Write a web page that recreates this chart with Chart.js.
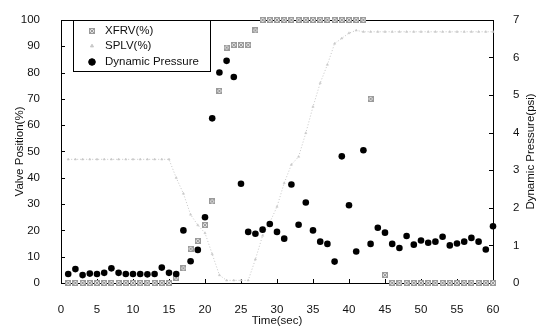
<!DOCTYPE html>
<html>
<head>
<meta charset="utf-8">
<script src="https://cdn.jsdelivr.net/npm/chart.js@4/dist/chart.umd.min.js"></script>
<style>
  html, body { margin: 0; padding: 0; background: #fff; }
</style>
</head>
<body>
<canvas id="chart" width="543" height="331"></canvas>
<script>
// time (sec) for each sample
const times = [1,2,3,4,5,6,7,8,9,10,11,12,13,14,15,16,17,18,19,20,
  21,22,23,24,25,26,27,28,29,30,31,32,33,34,35,36,37,38,39,40,
  41,42,43,44,45,46,47,48,49,50,51,52,53,54,55,56,57,58,59,60];

// XFRV valve position (%)
const xfrv = [0,0,0,0,0,0,0,0,0,0,0,0,0,0,0,2,5.6,13,16,22,
  31,73,89.5,90.5,90.5,90.5,96,100,100,100,100,100,100,100,100,100,100,100,100,100,
  100,100,70,null,3,0,0,0,0,0,0,0,0,0,0,0,0,0,0,0];

// SPLV valve position (%)
const splv = [47,47,47,47,47,47,47,47,47,47,47,47,47,47,47,40,34,26,22,19,
  11,3,1,1,1,1,9,18,23,29,38,45,48,57,67,76,83,91,93,95,
  96,95.5,95.5,95.5,95.5,95.5,95.5,95.5,95.5,95.5,95.5,95.5,95.5,95.5,95.5,95.5,95.5,95.5,95.5,95.5];

// dynamic pressure (psi)
const pressure = [0.24,0.37,0.21,0.25,0.24,0.27,0.39,0.27,0.24,0.24,0.24,0.23,0.24,0.41,0.27,0.24,1.4,0.58,0.88,1.75,
  4.38,5.6,5.91,5.48,2.64,1.36,1.31,1.42,1.57,1.36,1.18,2.62,1.55,2.14,1.4,1.1,1.04,0.57,3.37,2.07,
  0.84,3.53,1.04,1.47,1.34,1.04,0.93,1.25,1.02,1.13,1.07,1.1,1.23,1.0,1.05,1.1,1.2,1.1,0.89,1.51];

const seriesNames = ['XFRV(%)', 'SPLV(%)', 'Dynamic Pressure'];
const xTitle = 'Time(sec)';
const yTitle = 'Valve Position(%)';
const y2Title = 'Dynamic Pressure(psi)';

const fontFamily = '"Liberation Sans", Arial, sans-serif';

// little hatched square used for XFRV markers
const xfrvMark = document.createElement('canvas');
xfrvMark.width = 6; xfrvMark.height = 6;
(function(){
  const c = xfrvMark.getContext('2d');
  c.fillStyle = '#e2e2e2';
  c.fillRect(0, 0, 6, 6);
  c.strokeStyle = '#9a9a9a';
  c.lineWidth = 1;
  c.strokeRect(0.5, 0.5, 5, 5);
  c.beginPath();
  c.moveTo(1, 1); c.lineTo(5, 5);
  c.moveTo(5, 1); c.lineTo(1, 5);
  c.stroke();
})();

function toPoints(ys){
  return times.map((t, i) => ({x: t, y: ys[i]}));
}

const frame = {
  id: 'frame',
  beforeDraw(chart){
    const ctx = chart.ctx;
    ctx.save();
    ctx.fillStyle = '#fff';
    ctx.fillRect(0, 0, chart.width, chart.height);
    ctx.restore();
  },
  beforeDatasetsDraw(chart){
    const {ctx, chartArea: a, scales} = chart;
    ctx.save();
    ctx.strokeStyle = '#000';
    ctx.lineWidth = 1;
    ctx.strokeRect(Math.round(a.left) + 0.5, Math.round(a.top) + 0.5,
      Math.round(a.right - a.left), Math.round(a.bottom - a.top));
    // inward ticks
    ctx.beginPath();
    scales.x.ticks.forEach(t => {
      const px = Math.round(scales.x.getPixelForValue(t.value)) + 0.5;
      ctx.moveTo(px, a.bottom); ctx.lineTo(px, a.bottom - 4);
    });
    scales.y.ticks.forEach(t => {
      const py = Math.round(scales.y.getPixelForValue(t.value)) + 0.5;
      ctx.moveTo(a.left, py); ctx.lineTo(a.left + 4, py);
    });
    scales.y2.ticks.forEach(t => {
      const py = Math.round(scales.y2.getPixelForValue(t.value)) + 0.5;
      ctx.moveTo(a.right, py); ctx.lineTo(a.right - 4, py);
    });
    ctx.stroke();
    ctx.restore();
  },
  afterDraw(chart){
    const {ctx, chartArea: a} = chart;
    ctx.save();
    ctx.fillStyle = '#111';
    ctx.font = '11.5px ' + fontFamily;
    ctx.textAlign = 'center';
    ctx.textBaseline = 'middle';
    ctx.fillText(xTitle, (a.left + a.right) / 2, 321);
    ctx.save();
    ctx.translate(20, (a.top + a.bottom) / 2);
    ctx.rotate(-Math.PI / 2);
    ctx.fillText(yTitle, 0, 0);
    ctx.restore();
    ctx.save();
    ctx.translate(531, (a.top + a.bottom) / 2);
    ctx.rotate(-Math.PI / 2);
    ctx.fillText(y2Title, 0, 0);
    ctx.restore();

    // legend box inside the plot
    const bx = 73.5, by = 20.5, bw = 137, bh = 51;
    ctx.fillStyle = '#fff';
    ctx.fillRect(bx, by, bw, bh);
    ctx.strokeStyle = '#000';
    ctx.lineWidth = 1;
    ctx.strokeRect(bx, by, bw, bh);
    const rows = [31, 46, 62];
    chart.data.datasets.forEach((ds, i) => {
      ctx.fillStyle = ds.backgroundColor;
      ctx.strokeStyle = ds.borderColor;
      ctx.lineWidth = 1;
      Chart.helpers.drawPoint(ctx, {
        pointStyle: ds.pointStyle, radius: ds.pointRadius + (i === 1 ? 0.5 : 0),
        rotation: 0, borderWidth: 1
      }, 92, rows[i]);
      ctx.fillStyle = '#111';
      ctx.textAlign = 'left';
      ctx.font = '11.5px ' + fontFamily;
      ctx.fillText(seriesNames[i], 105, rows[i]);
    });
    ctx.restore();
  }
};

const ctx = document.getElementById('chart');
const myChart = new Chart(ctx, {
  type: 'scatter',
  data: {
    datasets: [{
      label: seriesNames[0],
      data: toPoints(xfrv),
      yAxisID: 'y',
      pointStyle: xfrvMark,
      pointRadius: 3,
      backgroundColor: '#dcdcdc',
      borderColor: '#9a9a9a',
      clip: false,
      order: 2
    },
    {
      label: seriesNames[1],
      data: toPoints(splv),
      yAxisID: 'y',
      showLine: true,
      borderDash: [1, 2],
      borderWidth: 1,
      borderColor: '#c8c8c8',
      backgroundColor: '#c8c8c8',
      pointStyle: 'triangle',
      pointRadius: 1.3,
      pointBorderWidth: 0.5,
      clip: false,
      order: 3
    },
    {
      label: seriesNames[2],
      data: toPoints(pressure),
      yAxisID: 'y2',
      pointStyle: 'circle',
      pointRadius: 3.3,
      backgroundColor: '#000',
      borderColor: '#000',
      borderWidth: 0,
      clip: false,
      order: 1
    }]
  },
  options: {
    responsive: false,
    animation: false,
    layout: { padding: { top: 10, left: 0, right: 0, bottom: 0 } },
    plugins: {
      legend: { display: false },
      tooltip: { enabled: false }
    },
    scales: {
      x: {
        type: 'linear',
        min: 0, max: 60,
        grid: { display: false },
        border: { display: false },
        ticks: { stepSize: 5, maxRotation: 0, autoSkip: false, padding: 12,
          color: '#111', font: { family: fontFamily, size: 11.5 } },
        afterFit: (s) => { s.height = 48; }
      },
      y: {
        position: 'left',
        min: 0, max: 100,
        grid: { display: false },
        border: { display: false },
        ticks: { stepSize: 10, padding: 13, color: '#111',
          font: { family: fontFamily, size: 11.5 } },
        afterFit: (s) => { s.width = 61; }
      },
      y2: {
        position: 'right',
        min: 0, max: 7,
        grid: { display: false },
        border: { display: false },
        ticks: { stepSize: 1, padding: 12, color: '#111',
          font: { family: fontFamily, size: 11.5 } },
        afterFit: (s) => { s.width = 50; }
      }
    }
  },
  plugins: [frame]
});
</script>
</body>
</html>
